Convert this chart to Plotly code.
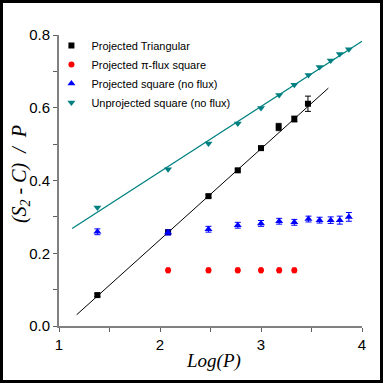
import plotly.graph_objects as go

# x values: Log(P)
tri_x = [1.38, 2.08, 2.48, 2.77, 3.0, 3.175, 3.33, 3.465]
tri_y = [0.085, 0.258, 0.357, 0.428, 0.489, 0.547, 0.569, 0.611]
tri_err = [0.004, 0.004, 0.004, 0.004, 0.005, 0.01, 0.008, 0.021]

pi_x = [2.08, 2.48, 2.77, 3.0, 3.18, 3.33]
pi_y = [0.153, 0.153, 0.153, 0.153, 0.153, 0.153]
pi_err = [0.006, 0.006, 0.006, 0.006, 0.006, 0.006]

sq_x = [1.38, 2.08, 2.48, 2.77, 3.0, 3.18, 3.33, 3.47, 3.58, 3.69, 3.78, 3.87]
sq_y = [0.259, 0.257, 0.266, 0.277, 0.282, 0.288, 0.285, 0.294, 0.291, 0.291, 0.291, 0.300]
sq_err = [0.008, 0.007, 0.008, 0.008, 0.008, 0.008, 0.008, 0.008, 0.008, 0.009, 0.011, 0.012]

unp_x = [1.38, 2.08, 2.48, 2.77, 3.0, 3.18, 3.33, 3.47, 3.58, 3.69, 3.78, 3.87]
unp_y = [0.326, 0.431, 0.502, 0.557, 0.599, 0.635, 0.663, 0.690, 0.712, 0.730, 0.748, 0.761]

# fitted lines (end points)
tri_fit_x = [1.175, 3.667]
tri_fit_y = [0.031, 0.654]
unp_fit_x = [1.13, 4.0]
unp_fit_y = [0.268, 0.783]

teal = "#008080"
fig = go.Figure()

fig.add_trace(go.Scatter(x=tri_fit_x, y=tri_fit_y, mode="lines",
                         line=dict(color="black", width=1), showlegend=False))
fig.add_trace(go.Scatter(x=unp_fit_x, y=unp_fit_y, mode="lines",
                         line=dict(color=teal, width=1.3), showlegend=False))

fig.add_trace(go.Scatter(
    x=tri_x, y=tri_y, mode="markers", name="Projected Triangular",
    marker=dict(symbol="square", size=6, color="black"),
    error_y=dict(type="data", array=tri_err, color="black", thickness=1, width=3)))
fig.add_trace(go.Scatter(
    x=pi_x, y=pi_y, mode="markers", name="Projected \u03c0-flux square",
    marker=dict(symbol="circle", size=6, color="red"),
    error_y=dict(type="data", array=pi_err, color="red", thickness=1.5, width=2)))
fig.add_trace(go.Scatter(
    x=sq_x, y=sq_y, mode="markers", name="Projected square (no flux)",
    marker=dict(symbol="triangle-up", size=7, color="blue"),
    error_y=dict(type="data", array=sq_err, color="blue", thickness=1, width=3)))
fig.add_trace(go.Scatter(
    x=unp_x, y=unp_y, mode="markers", name="Unprojected square (no flux)",
    marker=dict(symbol="triangle-down", size=7, color=teal)))

L, R, T, B = 59, 21, 35, 57
W = H = 383
pw = W - L - R
ph = H - T - B

fig.update_layout(
    width=W, height=H,
    margin=dict(l=L, r=R, t=T, b=B, autoexpand=False),
    paper_bgcolor="white", plot_bgcolor="white",
    font=dict(family="Arial, Liberation Sans", color="black"),
    legend=dict(x=-0.025, y=(H - B - 31) / ph, xanchor="left", yanchor="top",
                bgcolor="rgba(0,0,0,0)", font=dict(size=11),
                tracegroupgap=0),
    xaxis=dict(range=[1, 4], tickvals=[1, 2, 3, 4], showgrid=False, zeroline=False,
               showline=True, linecolor="#808080", linewidth=2,
               ticks="outside", ticklen=4, tickcolor="#606060",
               minor=dict(tickvals=[1.5, 2.5, 3.5], ticks="outside", ticklen=4,
                          tickcolor="#606060"),
               tickfont=dict(size=15)),
    yaxis=dict(range=[0, 0.8], tickvals=[0, 0.2, 0.4, 0.6, 0.8], tickformat=".1f",
               showgrid=False, zeroline=False,
               showline=True, linecolor="#808080", linewidth=2,
               ticks="outside", ticklen=4, tickcolor="#606060",
               minor=dict(tickvals=[0.1, 0.3, 0.5, 0.7], ticks="outside", ticklen=4,
                          tickcolor="#606060"),
               tickfont=dict(size=15)),
    annotations=[
        dict(text="<i>Log(P)</i>", xref="paper", yref="paper", x=0.51, y=-0.12,
             showarrow=False, font=dict(family="Liberation Serif", size=19),
             xanchor="center", yanchor="middle"),
        dict(text="<i>(S<sub>2</sub> - C)  /  P</i>", xref="paper", yref="paper",
             x=(20 - L) / pw, y=0.522, textangle=-90, showarrow=False,
             font=dict(family="Liberation Serif", size=20),
             xanchor="center", yanchor="middle"),
    ],
    shapes=[dict(type="rect", xref="paper", yref="paper",
                 x0=-L / pw, x1=(W - L) / pw, y0=-B / ph, y1=(H - B) / ph,
                 line=dict(color="black", width=6))],
)

fig.write_html("out.html", config={"displayModeBar": False},
               post_script="document.body.style.margin='0';document.body.style.overflow='hidden';")
